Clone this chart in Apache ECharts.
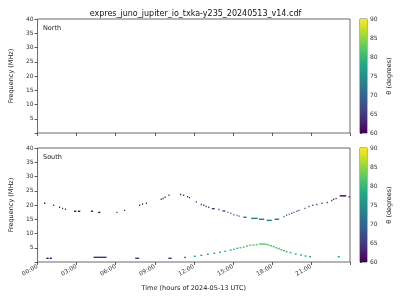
<!DOCTYPE html>
<html><head><meta charset="utf-8">
<script src="https://cdn.jsdelivr.net/npm/echarts@6/dist/echarts.min.js"></script>
<style>html,body{margin:0;padding:0;background:#fff}#c{width:400px;height:300px}</style>
</head><body><div id="c"></div>
<script>
// Data: [startHour, endHour, frequency MHz, theta degrees]
const titleText = 'expres_juno_jupiter_io_txka-y235_20240513_v14.cdf';
const hourTicks = [0, 3, 6, 9, 12, 15, 18, 21];
const freqTicks = [5, 10, 15, 20, 25, 30, 35, 40];
const thetaTicks = [60, 65, 70, 75, 80, 85, 90];
const northData = [];
const southUpper = [
  [0.5,0.6,20.6,61],[1.2,1.27,19.9,61],[1.65,1.72,19.2,61],[1.88,1.95,18.8,61],
  [2.1,2.17,18.5,61],[2.8,2.98,17.8,61],[3.1,3.28,17.8,61],[4.1,4.27,17.8,61],
  [4.65,4.82,17.4,61],[6.05,6.12,17.4,61],[6.65,6.72,18.1,61],[7.8,7.87,19.9,61],
  [8.02,8.09,20.3,61],[8.32,8.39,20.6,61],[9.45,9.52,22.0,61],[9.6,9.67,22.3,61],
  [9.75,9.82,22.7,61],[10.05,10.12,23.4,61],[10.95,11.02,23.7,61],[11.18,11.25,23.4,61],
  [11.48,11.55,22.9,61],[11.63,11.7,22.6,61],[12.15,12.22,21.1,61],[12.53,12.6,20.2,61],
  [12.72,12.79,19.9,62],[12.9,12.97,19.5,62],[13.1,13.17,19.2,63],[13.38,13.6,18.7,64],
  [13.88,13.95,18.4,65],[14.2,14.42,17.9,66],[14.58,14.65,17.4,67],[14.8,14.87,17.1,68],
  [15.03,15.1,16.6,69],[15.28,15.35,16.3,70],[15.45,15.52,16.1,70],[15.8,16.05,15.7,71],
  [16.4,16.9,15.3,72],[17.0,17.4,15.0,72],[17.6,17.98,14.6,72],[18.2,18.55,15.0,71],
  [18.88,18.95,15.9,68],[19.08,19.15,16.4,67],[19.28,19.35,16.7,66],[19.48,19.55,17.1,65],
  [19.65,19.72,17.4,64],[19.88,19.95,17.8,64],[20.03,20.1,18.1,63],[20.5,20.57,18.8,62],
  [20.8,20.87,19.5,62],[21.1,21.17,19.9,61],[21.4,21.47,20.2,61],[21.8,21.87,20.6,61],
  [22.2,22.27,20.9,61],[22.55,22.62,21.6,61],[22.7,22.77,22.0,61],[22.88,22.95,22.3,61],
  [23.2,23.7,23.2,60],[23.88,23.95,22.9,61]
];
const southLower = [
  [11.25,11.4,1.6,75],[12.0,12.15,2.0,76],[12.5,12.65,2.35,77],[13.0,13.15,2.7,78],
  [13.5,13.65,3.05,79],[13.93,14.08,3.4,79],[14.33,14.48,3.75,80],[14.75,14.9,4.2,80],
  [15.0,15.15,4.45,80],[15.25,15.4,4.8,81],[15.5,15.65,5.0,81],[15.75,15.9,5.25,81],
  [16.0,16.15,5.6,81],[16.25,16.4,5.85,82],[16.5,16.65,5.95,82],[16.75,16.9,6.1,82],
  [17.0,17.5,6.3,82],[17.5,17.65,6.2,82],[17.65,17.8,5.95,82],[17.85,18.0,5.7,82],
  [18.05,18.2,5.4,81],[18.25,18.4,5.0,81],[18.45,18.6,4.7,81],[18.65,18.8,4.3,80],
  [18.85,19.0,4.0,80],[19.05,19.2,3.6,80],[19.35,19.5,3.3,80],[19.75,19.9,2.8,79],
  [20.15,20.3,2.45,79],[20.5,20.65,2.1,78],[20.85,21.0,1.85,78],[23.05,23.2,1.85,77]
];
const southLowBand = [
  [0.68,0.85,1.3,61],[0.93,1.1,1.3,61],[4.3,5.3,1.65,65],[7.5,7.8,1.3,64],[10.05,10.3,1.3,64]
];
const viridis = ['#440154','#482475','#414487','#355f8d','#2a788e','#21918c','#22a884','#44bf70','#7ad151','#bddf26','#fde725'];

const chart = echarts.init(document.getElementById('c'), null, {renderer: 'canvas'});
const font = 'DejaVu Sans';
const axisCol = '#333';
const G = [
  {left: 31, top: 19, width: 319, height: 114},
  {left: 31, top: 148, width: 319, height: 114},
  {left: 360, top: 19, width: 7, height: 114},
  {left: 360, top: 148, width: 7, height: 114}
];
function pad2(n){ return (n < 10 ? '0' : '') + n; }
function xAx(gi, showLabels) {
  return {
    gridIndex: gi, type: 'value', min: 0, max: 23.99, interval: 3,
    axisLine: {show: false}, splitLine: {show: false},
    axisTick: {show: true, length: 3, lineStyle: {color: axisCol, width: 0.8}},
    axisLabel: {show: showLabels, rotate: 30, fontSize: 6, fontFamily: font, color: axisCol, margin: 4,
      formatter: v => hourTicks.indexOf(v) >= 0 ? pad2(v) + ':00' : ''},
    name: showLabels ? 'Time (hours of 2024-05-13 UTC)' : '', nameLocation: 'middle', nameGap: 23,
    nameTextStyle: {fontSize: 6.5, fontFamily: font, color: '#222'}
  };
}
function yAx(gi) {
  return {
    gridIndex: gi, type: 'value', min: 0, max: 40, interval: 5,
    axisLine: {show: false}, splitLine: {show: false},
    axisTick: {show: true, length: 3, lineStyle: {color: axisCol, width: 0.8}},
    axisLabel: {fontSize: 6, fontFamily: font, color: axisCol, margin: 4,
      formatter: v => freqTicks.indexOf(v) >= 0 ? String(v) : ''},
    name: 'Frequency (MHz)', nameLocation: 'middle', nameGap: 18, nameRotate: 90,
    nameTextStyle: {fontSize: 6.5, fontFamily: font, color: '#222'}
  };
}
function cbX(gi){ return {gridIndex: gi, type: 'value', min: 0, max: 1, show: false}; }
function cbY(gi){
  return {
    gridIndex: gi, type: 'value', min: 60, max: 90, interval: 5, position: 'right',
    axisLine: {show: false}, splitLine: {show: false},
    axisTick: {show: true, length: 2, lineStyle: {color: axisCol, width: 0.8}},
    axisLabel: {fontSize: 6, fontFamily: font, color: axisCol, margin: 3,
      formatter: v => thetaTicks.indexOf(v) >= 0 ? String(v) : ''},
    name: 'θ (degrees)', nameLocation: 'middle', nameGap: 19, nameRotate: 90,
    nameTextStyle: {fontSize: 6.5, fontFamily: font, color: '#222'}
  };
}
function segRender(params, api) {
  const a = api.coord([api.value(0), api.value(2)]);
  const b = api.coord([api.value(1), api.value(2)]);
  const w = Math.max(b[0] - a[0], 1.1);
  return {type: 'rect', shape: {x: a[0], y: a[1] - 0.7, width: w, height: 1.4},
    style: {fill: api.visual('color')}};
}
function cbRender(params, api) {
  const a = api.coord([0, 90]);
  const b = api.coord([1, 60]);
  const stops = viridis.map((c, i) => ({offset: 1 - i / (viridis.length - 1), color: c}));
  return {type: 'rect', shape: {x: a[0], y: a[1], width: b[0] - a[0], height: b[1] - a[1]},
    style: {fill: new echarts.graphic.LinearGradient(0, 0, 0, 1, stops.reverse())}};
}
function dataSeries(data, gi) {
  return {type: 'custom', xAxisIndex: gi, yAxisIndex: gi, renderItem: segRender,
    dimensions: ['t0','t1','f','theta'], encode: {x: [0, 1], y: 2},
    data: data, silent: true, animation: false};
}
chart.setOption({
  animation: false,
  backgroundColor: '#fff',
  title: {text: titleText, left: 190.5, textAlign: 'center', top: 5,
    textStyle: {fontSize: 8, fontWeight: 'normal', fontFamily: font, color: '#111'}},
  grid: G.map(g => Object.assign({show: true, borderColor: '#444', borderWidth: 0.8, backgroundColor: 'transparent'}, g)),
  xAxis: [xAx(0, false), xAx(1, true), cbX(2), cbX(3)],
  yAxis: [yAx(0), yAx(1), cbY(2), cbY(3)],
  visualMap: {show: false, type: 'continuous', min: 60, max: 90, dimension: 3,
    seriesIndex: [0, 1, 2, 3], inRange: {color: viridis}},
  graphic: [
    {type: 'text', left: 43, top: 25, style: {text: 'North', fontSize: 6.5, fontFamily: font, fill: '#222'}},
    {type: 'text', left: 43, top: 154, style: {text: 'South', fontSize: 6.5, fontFamily: font, fill: '#222'}}
  ],
  series: [
    dataSeries(northData, 0),
    dataSeries(southUpper, 1),
    dataSeries(southLower, 1),
    dataSeries(southLowBand, 1),
    {type: 'custom', xAxisIndex: 2, yAxisIndex: 2, renderItem: cbRender, data: [[0]], silent: true},
    {type: 'custom', xAxisIndex: 3, yAxisIndex: 3, renderItem: cbRender, data: [[0]], silent: true}
  ]
});
</script></body></html>
